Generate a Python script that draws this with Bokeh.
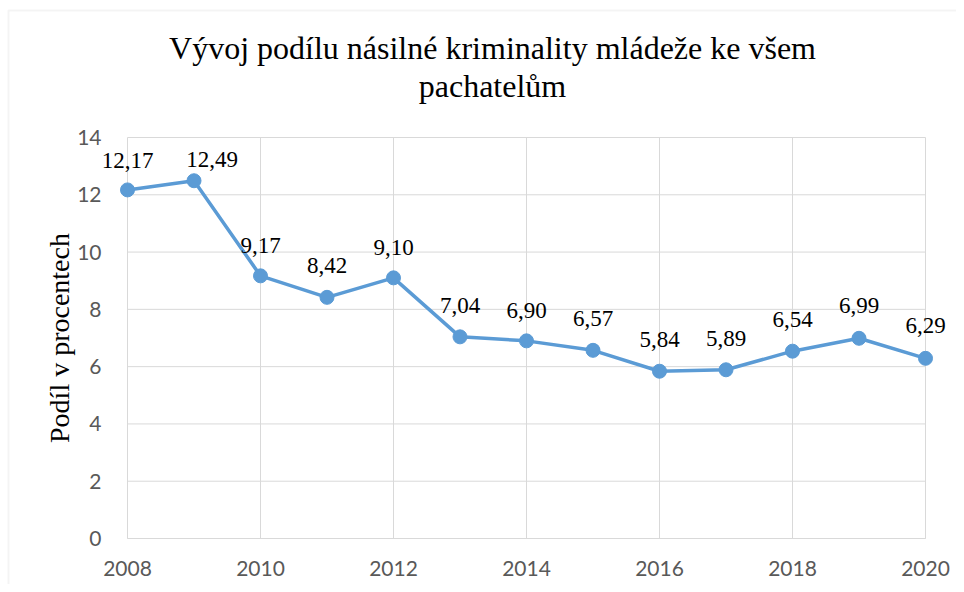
from bokeh.plotting import figure
from bokeh.models import ColumnDataSource, LabelSet, Label, FixedTicker, Range1d, BoxAnnotation
from bokeh.embed import file_html
from bokeh.resources import INLINE

# ---- data ----
years = [2008, 2009, 2010, 2011, 2012, 2013, 2014, 2015, 2016, 2017, 2018, 2019, 2020]
shares = [12.17, 12.49, 9.17, 8.42, 9.10, 7.04, 6.90, 6.57, 5.84, 5.89, 6.54, 6.99, 6.29]
share_labels = ["12,17", "12,49", "9,17", "8,42", "9,10", "7,04", "6,90", "6,57",
                "5,84", "5,89", "6,54", "6,99", "6,29"]
x_ticks = [2008, 2010, 2012, 2014, 2016, 2018, 2020]
y_ticks = [0, 2, 4, 6, 8, 10, 12, 14]
title_lines = ["Vývoj podílu násilné kriminality mládeže ke všem", "pachatelům"]
y_axis_title = "Podíl v procentech"

# label nudges (screen px) relative to each point
label_dx = [0, 18, 0, 0, 0, 0, 0, 0, 0, 0, 0, 0, 0]
label_dy = [22, 14, 23, 24, 23, 24, 23, 24, 24, 24, 24, 25, 25]

SERIF = "Liberation Serif"
SANS = "Lato"
GRID = "#d9d9d9"
BLUE = "#5B9BD5"

# ---- layout (px): the frame fills the canvas; plot area placed inside it ----
W, H = 956, 584
AREA_L, AREA_R, AREA_T, AREA_B = 127, 925, 137, 538
BOX_L, BOX_T = 8, 10            # outer chart-box border (left / top edges)
xs = (AREA_R - AREA_L) / (years[-1] - years[0])          # px per year
ys = (AREA_B - AREA_T) / (y_ticks[-1] - y_ticks[0])      # px per unit
x_range = Range1d(years[0] - AREA_L / xs, years[-1] + (W - AREA_R) / xs)
y_range = Range1d(y_ticks[0] - (H - AREA_B) / ys, y_ticks[-1] + AREA_T / ys)

src = ColumnDataSource(dict(year=years, share=shares, label=share_labels,
                            dx=label_dx, dy=label_dy))
hgrid = ColumnDataSource(dict(x0=[years[0]] * len(y_ticks),
                              x1=[years[-1]] * len(y_ticks), y=y_ticks))
vgrid = ColumnDataSource(dict(x=x_ticks, y0=[y_ticks[0]] * len(x_ticks),
                              y1=[y_ticks[-1]] * len(x_ticks)))

p = figure(width=W, height=H, x_range=x_range, y_range=y_range,
           output_backend="svg", toolbar_location=None,
           min_border=0, min_border_left=0, min_border_right=0,
           min_border_top=0, min_border_bottom=0)
p.title.visible = False
p.outline_line_color = None
p.background_fill_color = "white"
p.border_fill_color = "white"
p.xgrid.visible = False
p.ygrid.visible = False

# outer chart box (only its left and top edges are in view)
p.add_layout(BoxAnnotation(left=x_range.start + BOX_L / xs,
                           top=y_range.end - BOX_T / ys,
                           right=x_range.end + 1, bottom=y_range.start - 1,
                           fill_alpha=0, line_color=GRID, line_width=2,
                           level="underlay"))

# axes placed at the plot-area edges
p.xaxis.ticker = FixedTicker(ticks=x_ticks)
p.yaxis.ticker = FixedTicker(ticks=y_ticks)
p.xaxis.fixed_location = y_ticks[0]
p.yaxis.fixed_location = years[0]
p.xaxis.bounds = (years[0], years[-1])
p.yaxis.bounds = (y_ticks[0], y_ticks[-1])
for ax in (p.xaxis[0], p.yaxis[0]):
    ax.major_tick_line_color = None
    ax.minor_tick_line_color = None
    ax.major_label_text_font = SANS
    ax.major_label_text_font_size = "21px"
    ax.major_label_text_color = "#595959"
p.xaxis.axis_line_color = GRID
p.xaxis.axis_line_width = 1
p.yaxis.axis_line_color = None
p.xaxis.major_label_standoff = 16
p.yaxis.major_label_standoff = 20

p.yaxis.axis_label = y_axis_title
p.yaxis.axis_label_text_font = SERIF
p.yaxis.axis_label_text_font_style = "normal"
p.yaxis.axis_label_text_font_size = "28px"
p.yaxis.axis_label_text_color = "black"
p.yaxis.axis_label_standoff = -1

# gridlines limited to the plot area
p.segment("x0", "y", "x1", "y", source=hgrid, line_color=GRID, line_width=1)
p.segment("x", "y0", "x", "y1", source=vgrid, line_color=GRID, line_width=1)

# series
p.line("year", "share", source=src, line_color=BLUE, line_width=3.5)
p.scatter("year", "share", source=src, size=14, fill_color=BLUE, line_color=BLUE)

labels = LabelSet(x="year", y="share", text="label", source=src,
                  x_offset="dx", y_offset="dy",
                  text_align="center", text_baseline="alphabetic",
                  text_font=SERIF, text_font_size="23px", text_color="black")
p.add_layout(labels)

# two-line title, centred over the chart box
mid_x = (years[0] + years[-1]) / 2
for txt, off in zip(title_lines, [90, 52]):
    p.add_layout(Label(x=mid_x, y=y_ticks[-1], x_offset=-34, y_offset=off, text=txt,
                       text_align="center", text_baseline="alphabetic",
                       text_font=SERIF, text_font_size="32px", text_color="black"))

open("out.html", "w").write(file_html(p, INLINE))
